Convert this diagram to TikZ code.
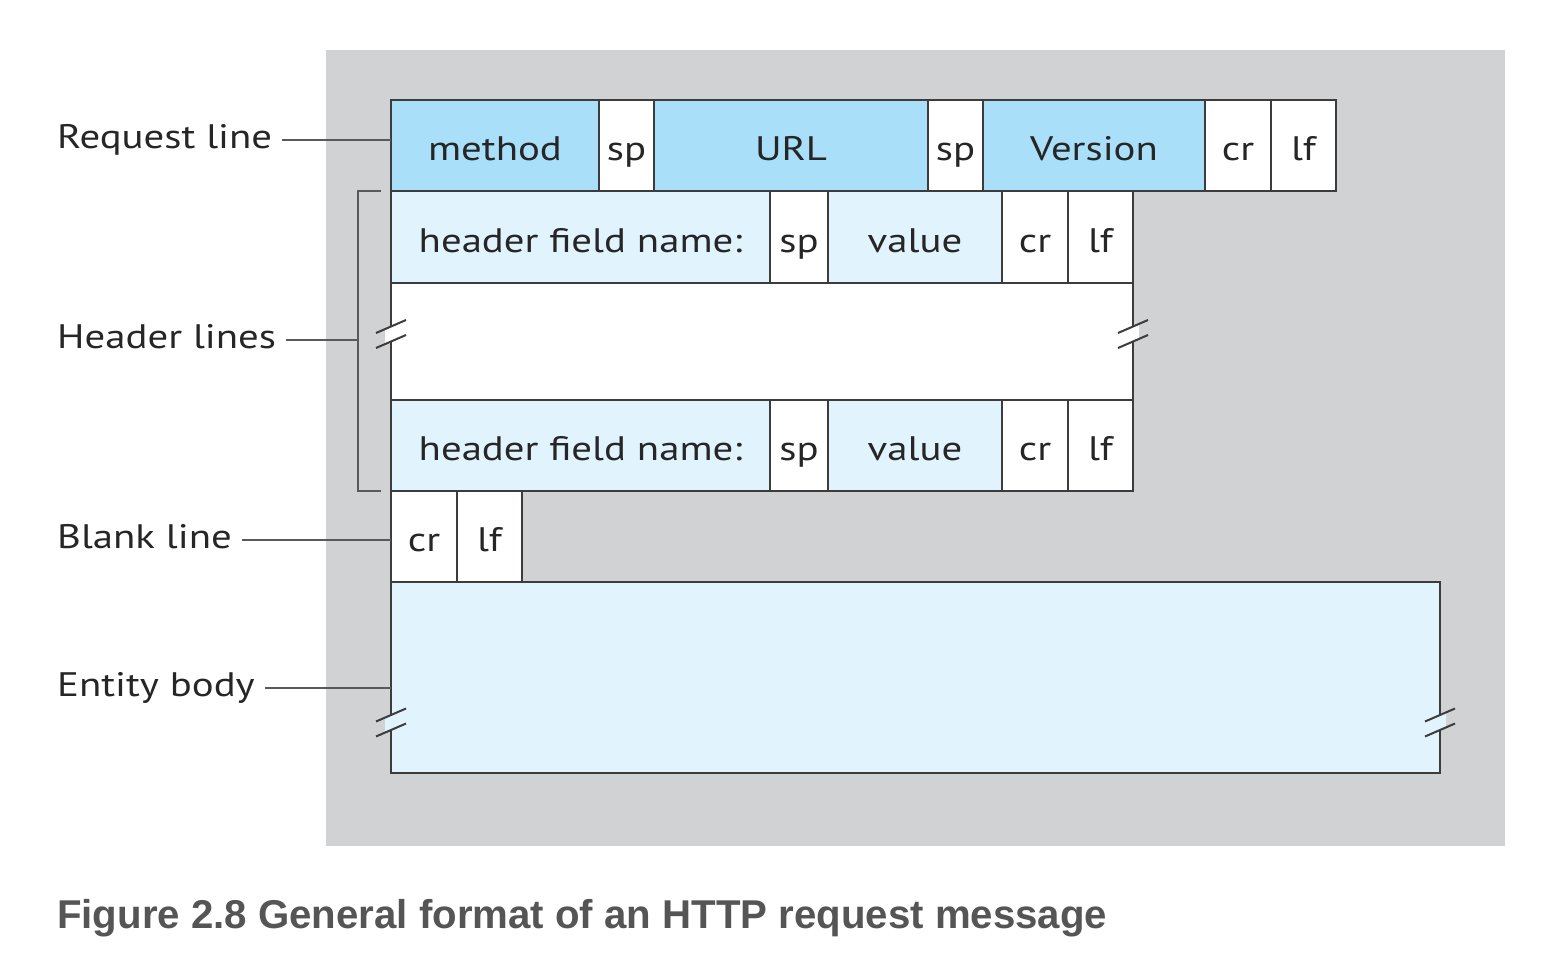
\documentclass[tikz,border=0pt]{standalone}
\usepackage{fontspec}
\setmainfont{PT Sans}[FakeStretch=1.2]
\newfontfamily\capfont{Liberation Sans}
\usetikzlibrary{positioning}
\usetikzlibrary{calc}

\definecolor{bggray}{HTML}{D1D2D4}
\definecolor{fieldblue}{HTML}{A9DFF9}
\definecolor{paleblue}{HTML}{E1F3FD}
\definecolor{edgegray}{HTML}{3C3C3C}
\definecolor{capgray}{HTML}{555555}

% break mark across a vertical edge
\newcommand{\breakmark}[2]{%
  \fill [#2] ($(#1)+(-6,-4.9)$) -- ($(#1)+(6,-10.1)$) -- ($(#1)+(6,4.9)$) -- ($(#1)+(-6,10.1)$) -- cycle;
  \draw [edgegray, line width=2pt] ($(#1)+(-15,-1)$) -- ($(#1)+(15,-14)$);
  \draw [edgegray, line width=2pt] ($(#1)+(-15,14)$) -- ($(#1)+(15,1)$);
}

\begin{document}
\begin{tikzpicture}[x=1pt, y=-1pt,
    every node/.style={font=\fontsize{34}{40}\selectfont, text=black!85},
    cell/.style={draw=edgegray, line width=2pt, rectangle, outer sep=0pt, inner sep=0pt,
      text height=30pt, text depth=0pt},
    cellblue/.style={cell, fill=fieldblue},
    cellpale/.style={cell, fill=paleblue},
    cellwhite/.style={cell, fill=white},
    lbl/.style={anchor=west, inner sep=0pt, text height=16pt, text depth=0pt},
    lblline/.style={draw=black!65, line width=1.6pt}]
    \useasboundingbox (0,0) rectangle (1554,964);
    \fill [bggray] (326,50) rectangle (1505,846);

    % request line
    \node [cellblue, minimum width=208, minimum height=91, anchor=north west] (method) at (391,100) {method};
    \node [cellwhite, minimum width=55, minimum height=91, right=0pt of method] (spa) {sp};
    \node [cellblue, minimum width=274, minimum height=91, right=0pt of spa] (url) {URL};
    \node [cellwhite, minimum width=55, minimum height=91, right=0pt of url] (spb) {sp};
    \node [cellblue, minimum width=222, minimum height=91, right=0pt of spb] (version) {Version};
    \node [cellwhite, minimum width=66, minimum height=91, right=0pt of version] (cra) {cr};
    \node [cellwhite, minimum width=65, minimum height=91, right=0pt of cra] (lfa) {lf};

    % first header line
    \node [cellpale, minimum width=379, minimum height=92, anchor=north west] (hname) at (method.south west) {header field name:};
    \node [cellwhite, minimum width=58, minimum height=92, right=0pt of hname] (spc) {sp};
    \node [cellpale, minimum width=174, minimum height=92, right=0pt of spc] (hval) {value};
    \node [cellwhite, minimum width=66, minimum height=92, right=0pt of hval] (crb) {cr};
    \node [cellwhite, minimum width=65, minimum height=92, right=0pt of crb] (lfb) {lf};

    % gap in header lines
    \node [cellwhite, minimum width=742, minimum height=117, anchor=north west] (hgap) at (hname.south west) {};

    % last header line
    \node [cellpale, minimum width=379, minimum height=91, anchor=north west] (hnamez) at (hgap.south west) {header field name:};
    \node [cellwhite, minimum width=58, minimum height=91, right=0pt of hnamez] (spd) {sp};
    \node [cellpale, minimum width=174, minimum height=91, right=0pt of spd] (hvalz) {value};
    \node [cellwhite, minimum width=66, minimum height=91, right=0pt of hvalz] (crc) {cr};
    \node [cellwhite, minimum width=65, minimum height=91, right=0pt of crc] (lfc) {lf};

    % blank line
    \node [cellwhite, minimum width=66, minimum height=91, anchor=north west] (crd) at (hnamez.south west) {cr};
    \node [cellwhite, minimum width=65, minimum height=91, right=0pt of crd] (lfd) {lf};

    % entity body
    \node [cellpale, minimum width=1049, minimum height=191, anchor=north west] (body) at (crd.south west) {};

    \breakmark{$(hgap.west)+(0,-7.5)$}{white}
    \breakmark{$(hgap.east)+(0,-7.5)$}{white}
    \breakmark{$(body.west)+(0,45)$}{paleblue}
    \breakmark{$(body.east)+(0,45)$}{paleblue}

    % labels
    \node [lbl] (reqlbl) at (57,140) {Request line};
    \node [lbl] (hdrlbl) at (57,340) {Header lines};
    \node [lbl] (blklbl) at (57,540) {Blank line};
    \node [lbl] (entlbl) at (57,688) {Entity body};

    \coordinate (brtop) at ($(hname.north west)+(-33,0)$);
    \coordinate (brbot) at ($(hnamez.south west)+(-33,0)$);
    \draw [lblline] ($(brtop)+(23,0)$) -- (brtop) -- (brbot) -- ($(brbot)+(23,0)$);

    \draw [lblline] ([xshift=10pt]reqlbl.east) -- (reqlbl.east -| method.west);
    \draw [lblline] ([xshift=10pt]hdrlbl.east) -- (hdrlbl.east -| brtop);
    \draw [lblline] ([xshift=10pt]blklbl.east) -- (blklbl.east -| crd.west);
    \draw [lblline] ([xshift=10pt]entlbl.east) -- (entlbl.east -| body.west);

    % caption
    \node [anchor=base west, inner sep=0pt, text=capgray, font=\capfont\bfseries\fontsize{40.2}{48}\selectfont] (caption) at (57,928)
      {Figure 2.8 General format of an HTTP request message};
\end{tikzpicture}
\end{document}
